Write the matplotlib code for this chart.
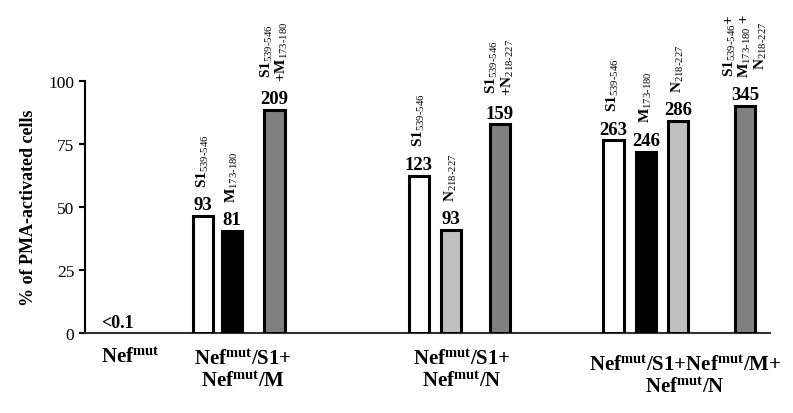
import matplotlib
matplotlib.use('Agg')
import matplotlib.pyplot as plt

plt.rcParams['font.family'] = ['Liberation Serif', 'DejaVu Serif']
plt.rcParams['mathtext.fontset'] = 'custom'
plt.rcParams['mathtext.rm'] = 'Liberation Serif'
plt.rcParams['mathtext.it'] = 'Liberation Serif:italic'
plt.rcParams['mathtext.bf'] = 'Liberation Serif:bold'

# dados
grupos = [r'Nef$^{\mathbf{mut}}$',
          'Nef$^{\\mathbf{mut}}$/S1+\nNef$^{\\mathbf{mut}}$/M',
          'Nef$^{\\mathbf{mut}}$/S1+\nNef$^{\\mathbf{mut}}$/N',
          'Nef$^{\\mathbf{mut}}$/S1+Nef$^{\\mathbf{mut}}$/M+\nNef$^{\\mathbf{mut}}$/N']
valores = [46.5, 40.6, 88.5, 62.5, 41.0, 82.8, 76.4, 72.0, 84.2, 90.0]
contagens = ['93', '81', '209', '123', '93', '159', '263', '246', '286', '345']
S = r'S1$_{539\text{-}546}$'
M = r'M$_{173\text{-}180}$'
N = r'N$_{218\text{-}227}$'
peptideos = [S, M, S + '\n+' + M, S, N, S + '\n+' + N, S, M, N,
             S + '+\n' + M + ' +\n' + N]
nef_sozinho = '<0.1'

# posicoes e estilo
posicoes = [3.69, 4.59, 5.92, 10.43, 11.43, 12.96, 16.51, 17.53, 18.53, 20.62]
pos_grupos = [1.41, 4.94, 11.78, 18.75]
y_grupos = [-0.095, -0.145, -0.145, -0.17]
cores = ['white', 'black', '#808080', 'white', '#c0c0c0', '#808080',
         'white', 'black', '#c0c0c0', '#808080']

fig = plt.figure(figsize=(7.93, 4.14), dpi=100)
ax = fig.add_axes([0.107, 0.193, 0.864, 0.609])

ax.bar(posicoes, valores, width=0.64, color=cores, edgecolor='black',
       linewidth=2.2, zorder=3)

for x, v, c, p in zip(posicoes, valores, contagens, peptideos):
    ax.annotate(c, (x, v), xytext=(0, 2), textcoords='offset points',
                ha='center', va='bottom', fontsize=13.5, fontweight='bold')
    ax.annotate(p, (x, v), xytext=(0, 21), textcoords='offset points',
                ha='center', va='bottom', rotation=90, fontsize=11,
                fontweight='bold', multialignment='center', linespacing=0.95)

ax.text(1.03, 0.8, nef_sozinho, ha='center', va='bottom', fontsize=13,
        fontweight='bold')

for x, y, g in zip(pos_grupos, y_grupos, grupos):
    ax.text(x, y, g, transform=ax.get_xaxis_transform(), ha='center',
            va='center', fontsize=15, fontweight='bold', linespacing=1.15)

ax.set_xlim(0, 21.4)
ax.set_ylim(0, 100)
ax.set_yticks([0, 25, 50, 75, 100])
ax.set_xticks([])
ax.tick_params(axis='y', direction='out', length=4, width=1.5, labelsize=12.5)
ax.spines['top'].set_visible(False)
ax.spines['right'].set_visible(False)
ax.spines['left'].set_linewidth(1.5)
ax.spines['bottom'].set_linewidth(1.5)
ax.spines['bottom'].set_color('#333333')
ax.set_ylabel('% of PMA-activated cells', fontsize=13, fontweight='bold',
              labelpad=8)

fig.savefig('out.png', dpi=100)
